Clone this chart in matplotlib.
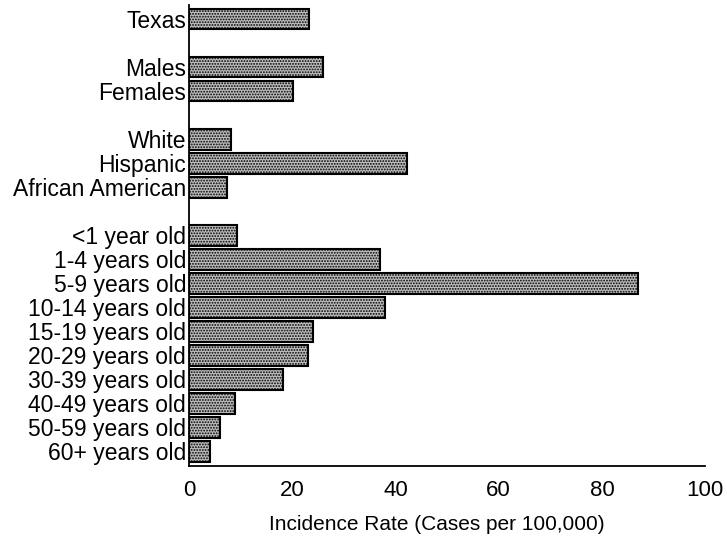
import matplotlib
matplotlib.use("Agg")
import matplotlib.pyplot as plt

categories = ["Texas", "Males", "Females", "White", "Hispanic", "African American",
              "<1 year old", "1-4 years old", "5-9 years old", "10-14 years old",
              "15-19 years old", "20-29 years old", "30-39 years old", "40-49 years old",
              "50-59 years old", "60+ years old"]
values = [23.3, 26.0, 20.2, 8.2, 42.2, 7.3,
          9.2, 37.0, 87.0, 37.9, 24.0, 23.0, 18.2, 9.0, 6.0, 4.0]
slots = [0, 2, 3, 5, 6, 7, 9, 10, 11, 12, 13, 14, 15, 16, 17, 18]
xticks = [0, 20, 40, 60, 80, 100]

plt.rcParams['font.family'] = ['Liberation Sans', 'DejaVu Sans']
plt.rcParams['hatch.color'] = '#444444'
plt.rcParams['hatch.linewidth'] = 0.9

fig = plt.figure(figsize=(7.27, 5.38), dpi=100)
ax = fig.add_axes([0.26, 0.134, 0.71, 0.857])

ax.barh(slots, values, height=0.85, left=0, color='#bdbdbd', edgecolor='black',
        linewidth=1.5, hatch='......')

ax.set_ylim(18.6, -0.6)
ax.set_xlim(0, 100)
ax.set_yticks(slots)
ax.set_yticklabels(categories, fontsize=16.5)
ax.set_xticks(xticks)
ax.set_xticklabels([str(t) for t in xticks], fontsize=16)
ax.tick_params(axis='y', length=0, pad=2)
ax.tick_params(axis='x', length=0, pad=10)
ax.spines['top'].set_visible(False)
ax.spines['right'].set_visible(False)
ax.spines['left'].set_linewidth(1.3)
ax.spines['bottom'].set_linewidth(1.3)
ax.set_xlabel("Incidence Rate (Cases per 100,000)", fontsize=15)
ax.xaxis.set_label_coords(0.48, -0.106)

fig.savefig("out.png", dpi=100)
